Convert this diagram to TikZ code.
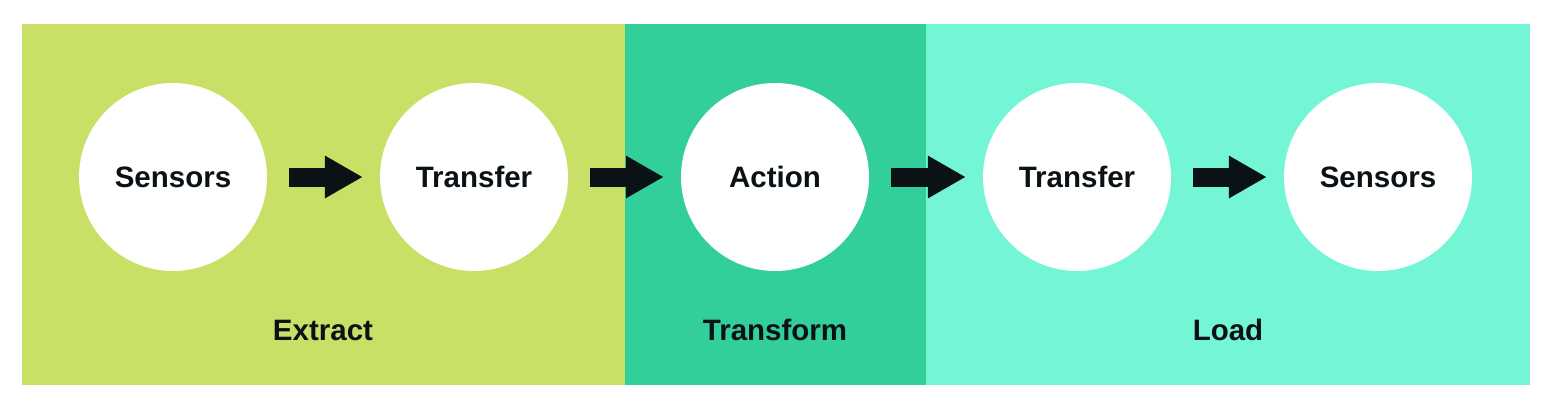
\documentclass[tikz,border=0pt]{standalone}
\usepackage{fontspec}
\setmainfont{Liberation Sans}
\usetikzlibrary{arrows.meta}
\definecolor{extractc}{HTML}{C8E066}
\definecolor{transformc}{HTML}{33CF9B}
\definecolor{loadc}{HTML}{74F5D6}
\definecolor{inkc}{HTML}{0B1216}
\tikzset{
  panel/.style={draw=none, inner sep=0pt, anchor=south west},
  stage/.style={circle, fill=white, draw=none, minimum size=188pt, inner sep=0pt,
    font=\fontsize{29.5}{34}\selectfont\bfseries, text=inkc},
  phase/.style={font=\fontsize{29.5}{34}\selectfont\bfseries, text=inkc},
  bigarrow/.style={line width=19pt, draw=inkc, -{Triangle[length=38pt,width=40pt]}}
}
\begin{document}
\begin{tikzpicture}[x=1pt,y=1pt]
\useasboundingbox[fill=white] (0,0) rectangle (1560,408);
\node[panel, fill=extractc, minimum width=603pt, minimum height=360.5pt] (pE) at (22,23) {};
\node[panel, fill=transformc, minimum width=302pt, minimum height=360.5pt] (pT) at (625,23) {};
\node[panel, fill=loadc, minimum width=604pt, minimum height=360.5pt] (pL) at (926,23) {};
\node[stage] (c1) at (173,231) {Sensors};
\node[stage] (c2) at (474,231) {Transfer};
\node[stage] (c3) at (775,231) {Action};
\node[stage] (c4) at (1077,231) {Transfer};
\node[stage] (c5) at (1378,231) {Sensors};
\draw[bigarrow] ([xshift=22pt]c1.east) -- ([xshift=-17pt]c2.west);
\draw[bigarrow] ([xshift=22pt]c2.east) -- ([xshift=-17pt]c3.west);
\draw[bigarrow] ([xshift=22pt]c3.east) -- ([xshift=-17pt]c4.west);
\draw[bigarrow] ([xshift=22pt]c4.east) -- ([xshift=-17pt]c5.west);
\node[phase] (lE) at (323,78) {Extract};
\node[phase] (lT) at (775,78) {Transform};
\node[phase] (lL) at (1228,78) {Load};
\end{tikzpicture}
\end{document}
